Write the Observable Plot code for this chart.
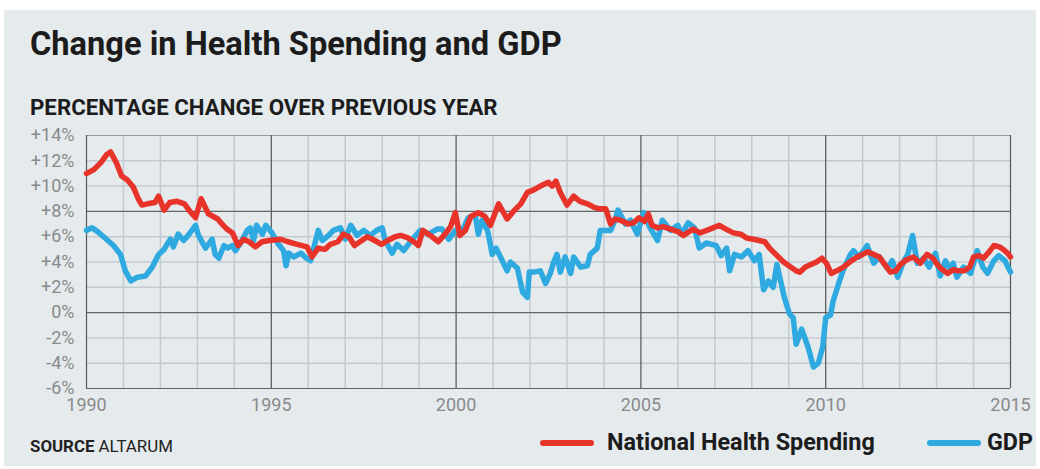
<!DOCTYPE html>
<html><head><meta charset="utf-8">
<script src="https://cdn.jsdelivr.net/npm/d3@7"></script>
<script src="https://cdn.jsdelivr.net/npm/@observablehq/plot@0.6"></script>
<style>
html,body{margin:0;padding:0;background:#fff;width:1040px;height:469px;overflow:hidden;font-family:Roboto,sans-serif}
#panel{position:absolute;left:4px;top:10px;width:1032px;height:456px;background:#e5eaed}
.t{position:absolute;white-space:nowrap;line-height:1;color:#1c1c1c}
#title{left:30px;font-weight:700}
#sub{left:30px;font-weight:700}
#chart{position:absolute;left:0;top:120px}
#source{left:30px;color:#222}
#source b{font-weight:700}
.lg{font-weight:700}
.sw{position:absolute;top:440px;height:6px;border-radius:3px}
</style></head><body>
<div id="panel"></div>
<div id="title" class="t">Change in Health Spending and GDP</div>
<div id="sub" class="t">PERCENTAGE CHANGE OVER PREVIOUS YEAR</div>
<div id="chart"></div>
<div id="source" class="t"><b>SOURCE</b> ALTARUM</div>
<div id="legend"></div>
<script>
const nhsYears = [1990.0,1990.2,1990.4,1990.55,1990.65,1990.8,1990.95,1991.1,1991.27,1991.4,1991.5,1991.65,1991.85,1991.95,1992.1,1992.25,1992.45,1992.65,1992.8,1992.95,1993.1,1993.3,1993.55,1993.7,1993.8,1993.95,1994.1,1994.25,1994.4,1994.57,1994.75,1994.95,1995.25,1995.45,1995.7,1995.97,1996.1,1996.27,1996.45,1996.6,1996.8,1996.95,1997.1,1997.25,1997.4,1997.6,1997.8,1997.98,1998.15,1998.35,1998.5,1998.7,1998.9,1998.98,1999.1,1999.3,1999.52,1999.7,1999.85,1999.98,2000.1,2000.25,2000.4,2000.6,2000.78,2000.93,2001.15,2001.38,2001.55,2001.75,2001.93,2002.1,2002.28,2002.5,2002.6,2002.7,2002.82,2003.0,2003.18,2003.35,2003.55,2003.75,2003.9,2004.05,2004.18,2004.3,2004.45,2004.65,2004.8,2004.95,2005.1,2005.2,2005.3,2005.45,2005.6,2005.8,2006.0,2006.15,2006.3,2006.42,2006.6,2006.78,2006.95,2007.12,2007.3,2007.5,2007.7,2007.86,2008.05,2008.2,2008.35,2008.48,2008.65,2008.86,2009.05,2009.2,2009.3,2009.45,2009.6,2009.75,2009.9,2010.02,2010.15,2010.3,2010.48,2010.65,2010.85,2011.0,2011.13,2011.3,2011.45,2011.6,2011.75,2011.9,2012.02,2012.2,2012.37,2012.56,2012.74,2012.9,2013.02,2013.15,2013.3,2013.45,2013.57,2013.75,2013.9,2014.0,2014.15,2014.27,2014.42,2014.55,2014.7,2014.8,2014.92,2015.0];
const nhsValues = [11.0,11.3,11.9,12.5,12.7,11.9,10.8,10.5,9.9,9.0,8.5,8.6,8.7,9.2,8.1,8.7,8.8,8.6,8.0,7.5,9.0,7.8,7.4,6.9,6.6,6.3,5.3,5.8,5.6,5.2,5.6,5.7,5.8,5.6,5.4,5.2,4.4,5.1,5.0,5.4,5.6,6.2,6.0,5.3,5.6,6.0,5.7,5.4,5.7,6.0,6.1,5.9,5.5,5.3,6.5,6.1,5.6,6.2,6.8,7.9,6.1,6.5,7.6,7.9,7.6,6.9,8.6,7.4,8.0,8.6,9.5,9.7,10.0,10.3,10.0,10.4,9.5,8.5,9.2,8.8,8.6,8.3,8.2,8.2,7.0,7.4,7.3,7.0,7.1,7.5,7.2,7.8,6.9,6.7,6.8,6.6,6.4,6.1,6.4,6.6,6.3,6.5,6.7,6.9,6.6,6.3,6.2,5.9,5.8,5.7,5.6,5.1,4.6,4.0,3.6,3.3,3.2,3.6,3.8,4.0,4.3,3.9,3.1,3.3,3.6,4.0,4.4,4.6,4.8,4.6,4.4,3.8,3.2,3.3,3.8,4.2,4.4,3.9,4.6,4.3,3.8,3.4,3.1,3.4,3.3,3.3,3.6,4.4,4.5,4.3,4.8,5.3,5.2,5.0,4.7,4.4];
const gdpYears = [1990.0,1990.15,1990.3,1990.5,1990.73,1990.92,1991.05,1991.2,1991.38,1991.6,1991.78,1991.95,1992.1,1992.18,1992.27,1992.35,1992.48,1992.63,1992.75,1992.95,1993.03,1993.22,1993.4,1993.48,1993.58,1993.72,1993.82,1993.95,1994.03,1994.17,1994.35,1994.43,1994.52,1994.6,1994.76,1994.85,1995.02,1995.17,1995.33,1995.4,1995.47,1995.6,1995.8,1995.95,1996.06,1996.27,1996.38,1996.55,1996.68,1996.87,1997.0,1997.15,1997.32,1997.5,1997.68,1997.85,1998.0,1998.08,1998.27,1998.4,1998.58,1998.82,1999.03,1999.25,1999.49,1999.62,1999.8,1999.98,2000.17,2000.33,2000.52,2000.6,2000.7,2000.85,2000.98,2001.08,2001.25,2001.38,2001.47,2001.66,2001.8,2001.93,2001.98,2002.1,2002.28,2002.42,2002.55,2002.64,2002.73,2002.82,2002.95,2003.1,2003.18,2003.37,2003.55,2003.63,2003.82,2003.9,2004.18,2004.3,2004.38,2004.58,2004.72,2004.9,2005.07,2005.25,2005.45,2005.58,2005.8,2006.0,2006.1,2006.28,2006.45,2006.58,2006.77,2007.04,2007.17,2007.32,2007.4,2007.53,2007.72,2007.9,2008.07,2008.2,2008.32,2008.45,2008.58,2008.68,2008.88,2009.02,2009.12,2009.2,2009.35,2009.52,2009.67,2009.8,2009.92,2010.0,2010.13,2010.2,2010.35,2010.48,2010.67,2010.75,2010.9,2011.12,2011.3,2011.45,2011.67,2011.8,2011.95,2012.1,2012.22,2012.35,2012.48,2012.65,2012.8,2012.97,2013.1,2013.24,2013.35,2013.45,2013.55,2013.73,2013.92,2014.1,2014.25,2014.38,2014.55,2014.68,2014.85,2015.0];
const gdpValues = [6.5,6.7,6.4,5.9,5.3,4.6,3.3,2.5,2.8,2.9,3.6,4.6,5.0,5.4,5.8,5.2,6.2,5.7,6.1,6.9,6.1,5.1,5.8,4.6,4.3,5.3,5.1,5.3,4.9,5.5,6.5,6.7,5.7,6.9,6.2,6.9,6.3,5.5,4.9,3.7,4.7,4.4,4.7,4.3,4.1,6.5,5.7,6.1,6.5,6.7,5.8,6.9,6.1,6.5,6.1,6.5,6.7,5.7,4.7,5.4,4.9,5.8,6.5,6.2,6.6,6.6,5.8,6.5,6.5,7.5,7.7,6.2,7.3,6.5,4.6,5.1,4.1,3.3,4.0,3.5,1.6,1.2,3.2,3.2,3.3,2.3,3.1,4.0,4.6,3.2,4.4,3.1,4.4,3.6,3.7,4.6,5.1,6.5,6.5,7.3,8.1,7.0,7.3,6.2,7.9,6.7,5.7,7.3,6.5,6.9,6.2,7.1,6.7,5.1,5.5,5.3,4.5,5.1,3.3,4.6,4.4,4.9,4.1,4.6,1.8,2.5,2.0,3.8,1.2,-0.1,-0.4,-2.5,-1.3,-2.7,-4.3,-4.0,-2.7,-0.4,-0.2,0.9,2.3,3.4,4.6,4.9,4.4,5.3,3.9,4.4,3.5,4.1,2.8,4.0,4.6,6.1,3.9,4.3,3.6,4.7,2.9,4.1,3.5,3.9,2.8,3.6,3.1,4.9,3.6,3.1,4.1,4.5,4.1,3.2];

const seriesNames = ["National Health Spending", "GDP"];
const seriesColors = ["#e8332a", "#2eaae1"];
const yTicks = [-6,-4,-2,0,2,4,6,8,10,12,14];
const yTickLabels = ["-6%","-4%","-2%","0%","+2%","+4%","+6%","+8%","+10%","+12%","+14%"];
const xTicks = [1990,1995,2000,2005,2010,2015];
const xTickLabels = ["1990","1995","2000","2005","2010","2015"];
const yearLines = [1991,1992,1993,1994,1996,1997,1998,1999,2001,2002,2003,2004,2006,2007,2008,2009,2011,2012,2013,2014];
const majorYLines = [-6,0,8];
const minorYLines = [-4,-2,2,4,6,10,12];

const nhs = nhsYears.map((x,i)=>({x, y:nhsValues[i]}));
const gdp = gdpYears.map((x,i)=>({x, y:gdpValues[i]}));

const chart = Plot.plot({
  width:1040, height:300,
  marginLeft:86, marginRight:30, marginTop:15, marginBottom:32,
  x:{domain:[1990,2015], label:null},
  y:{domain:[-6,14], label:null},
  style:{background:"transparent", fontFamily:"Roboto, sans-serif", fontSize:"18px", color:"#8a8a8a", overflow:"visible"},
  marks:[
    Plot.ruleX(yearLines, {stroke:"#c3cacf", strokeWidth:1.5}),
    Plot.ruleY(minorYLines, {stroke:"#c3cacf", strokeWidth:1.5}),
    Plot.ruleY([14], {stroke:"#9a9a9a", strokeWidth:1.2}),
    Plot.ruleY(majorYLines, {stroke:"#666", strokeWidth:1.2}),
    Plot.ruleX(xTicks, {stroke:"#555", strokeWidth:1.2}),
    Plot.line(gdp, {x:"x", y:"y", stroke:seriesColors[1], strokeWidth:5.5, strokeLinejoin:"round", strokeLinecap:"round"}),
    Plot.line(nhs, {x:"x", y:"y", stroke:seriesColors[0], strokeWidth:5.5, strokeLinejoin:"round", strokeLinecap:"round"}),
    Plot.axisY({ticks:yTicks, tickFormat:d=>yTickLabels[yTicks.indexOf(d)], tickSize:0, tickPadding:12, label:null}),
    Plot.axisX({ticks:xTicks, tickFormat:d=>xTickLabels[xTicks.indexOf(d)], tickSize:0, tickPadding:10, label:null})
  ]
});
document.getElementById("chart").appendChild(chart);

const legend = document.getElementById("legend");
const swLeft = [540, 927], txtLeft = [607, 987];
seriesNames.forEach((n,i)=>{
  const s = document.createElement("div"); s.className="sw";
  s.style.left = swLeft[i]+"px"; s.style.width = "54px"; s.style.background = seriesColors[i];
  legend.appendChild(s);
  const t = document.createElement("div"); t.className="t lg"; t.id = "lg"+i; t.style.left = txtLeft[i]+"px"; t.textContent = n;
  legend.appendChild(t);
});

// fit text to target width and place its baseline
function fit(id, targetWidth, baseline, startSize) {
  const el = document.getElementById(id);
  el.style.fontSize = startSize + "px";
  const w = el.getBoundingClientRect().width;
  const fs = startSize * targetWidth / w;
  el.style.fontSize = fs + "px";
  el.style.top = (baseline - 0.8415 * fs) + "px";
}
fit("title", 532, 55, 30);
fit("sub", 468, 115, 19);
fit("source", 143, 452, 14);
fit("lg0", 268, 451, 19);
fit("lg1", 46, 451, 19);
</script>
</body></html>
